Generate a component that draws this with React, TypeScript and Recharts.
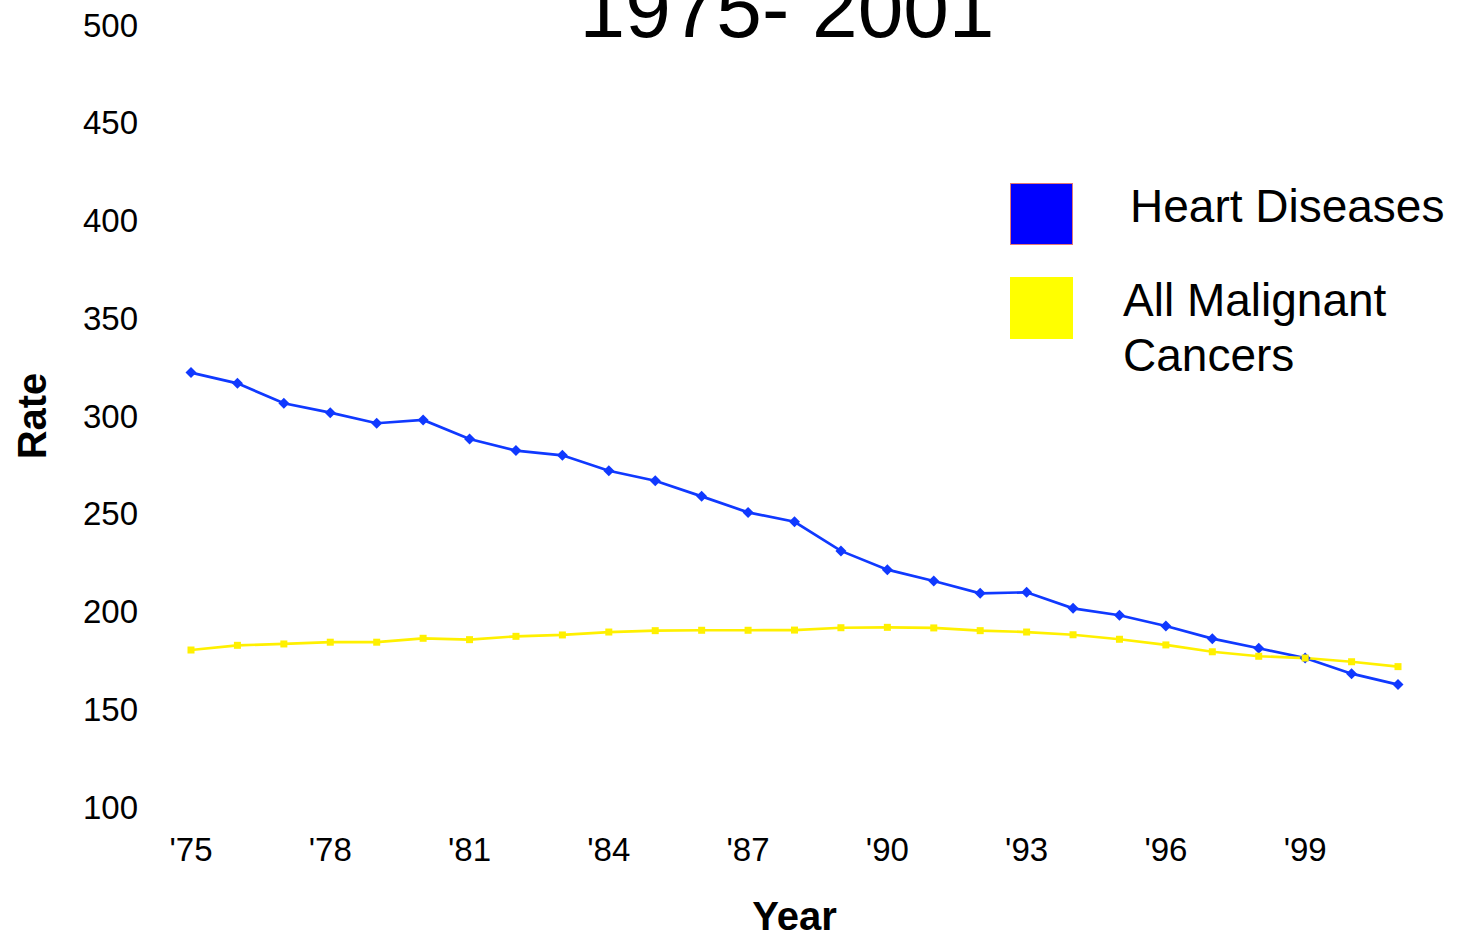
import React from 'react';
import { LineChart, Line, XAxis, YAxis, Legend, Label } from 'recharts';

// death rates per 100,000
const years = [1975, 1976, 1977, 1978, 1979, 1980, 1981, 1982, 1983, 1984, 1985, 1986, 1987, 1988,
  1989, 1990, 1991, 1992, 1993, 1994, 1995, 1996, 1997, 1998, 1999, 2000, 2001];
const heartDiseases = [322.2, 316.7, 306.5, 301.7, 296.3, 298.0, 288.2, 282.3, 279.9, 272.0, 266.9, 258.9,
  250.7, 245.9, 231.0, 221.4, 215.6, 209.3, 209.8, 201.6, 198.1, 192.6, 186.1, 181.2, 176.2, 168.2, 162.6];
const malignantCancers = [180.3, 182.7, 183.4, 184.3, 184.3, 186.3, 185.6, 187.3, 188.0, 189.5, 190.2, 190.4,
  190.4, 190.5, 191.7, 191.9, 191.6, 190.2, 189.5, 188.1, 185.8, 182.9, 179.4, 177.1, 176.2, 174.3, 171.8];
const xTicks = [1975, 1978, 1981, 1984, 1987, 1990, 1993, 1996, 1999];
const yTicks = [100, 150, 200, 250, 300, 350, 400, 450, 500];

const data = years.map((year, i) => ({
  year,
  heart: heartDiseases[i],
  cancer: malignantCancers[i],
}));

const FONT = '"Liberation Sans", Arial, Helvetica, sans-serif';
const BLUE_LINE = '#1039ff';
const YELLOW_LINE = '#fff000';

// legend look, keyed by series
const legendStyle: Record<string, { fill: string; border: string; rowTop: number; textLeft: number; textTop: number }> = {
  heart: { fill: '#0000ff', border: '#e07878', rowTop: 13, textLeft: 130, textTop: 9 },
  cancer: { fill: '#ffff00', border: '#ffff00', rowTop: 107, textLeft: 123, textTop: 103 },
};

const Diamond = (props: any) => {
  const { cx, cy, index } = props;
  if (cx == null || cy == null) return null;
  return (
    <path key={`hd-${index}`} d={`M${cx},${cy - 5.5}L${cx + 5.5},${cy}L${cx},${cy + 5.5}L${cx - 5.5},${cy}Z`} fill={BLUE_LINE} />
  );
};

const Square = (props: any) => {
  const { cx, cy, index } = props;
  if (cx == null || cy == null) return null;
  return <rect key={`mc-${index}`} x={cx - 3.5} y={cy - 3.5} width={7} height={7} fill={YELLOW_LINE} />;
};

const renderLegend = (props: any) => {
  const { payload = [] } = props;
  return (
    <div style={{ position: 'relative', width: 458, height: 230, fontFamily: FONT, fontSize: 46, lineHeight: '55px', color: '#000' }}>
      {payload.map((entry: any) => {
        const s = legendStyle[entry.dataKey];
        if (!s) return null;
        return (
          <React.Fragment key={entry.dataKey}>
            <div style={{ position: 'absolute', left: 10, top: s.rowTop, width: 61, height: 60, background: s.fill, border: `1px solid ${s.border}` }} />
            <div style={{ position: 'absolute', left: s.textLeft, top: s.textTop, width: 330 }}>{entry.value}</div>
          </React.Fragment>
        );
      })}
    </div>
  );
};

export default function App() {
  return (
    <div style={{ position: 'absolute', left: 0, top: 0, width: 1458, height: 936, background: '#fff', fontFamily: FONT }}>
      <svg width={1458} height={60} style={{ position: 'absolute', left: 0, top: 0 }}>
        <text x={787} y={37} textAnchor="middle" fontSize={82} fontFamily={FONT} fill="#000">1975- 2001</text>
      </svg>
      <LineChart width={1458} height={936} data={data} margin={{ top: 25, right: 60, bottom: 0, left: 0 }}>
        <XAxis
          dataKey="year"
          type="number"
          domain={[1975, 2001]}
          ticks={xTicks}
          tickFormatter={(v: number) => `'${String(v).slice(2)}`}
          axisLine={false}
          tickLine={false}
          tickSize={0}
          tickMargin={31}
          height={129}
          interval={0}
          tick={{ fontSize: 33, fill: '#000', fontFamily: FONT }}
        >
          <Label value="Year" position="insideBottom" offset={6} style={{ fontSize: 40, fontWeight: 'bold', fill: '#000', fontFamily: FONT }} />
        </XAxis>
        <YAxis
          type="number"
          domain={[100, 500]}
          ticks={yTicks}
          axisLine={false}
          tickLine={false}
          tickSize={0}
          tickMargin={53}
          width={191}
          interval={0}
          tick={{ fontSize: 33, fill: '#000', fontFamily: FONT }}
        >
          <Label value="Rate" position="insideLeft" angle={-90} offset={32} style={{ fontSize: 40, fontWeight: 'bold', fill: '#000', fontFamily: FONT, textAnchor: 'middle' }} />
        </YAxis>
        <Legend
          layout="vertical"
          align="center"
          verticalAlign="middle"
          content={renderLegend}
          wrapperStyle={{ top: 170, left: 1000, width: 458 }}
        />
        <Line
          dataKey="heart"
          name="Heart Diseases"
          stroke={BLUE_LINE}
          strokeWidth={2.7}
          dot={Diamond}
          activeDot={false}
          isAnimationActive={false}
        />
        <Line
          dataKey="cancer"
          name="All Malignant Cancers"
          stroke={YELLOW_LINE}
          strokeWidth={2.7}
          dot={Square}
          activeDot={false}
          isAnimationActive={false}
        />
      </LineChart>
    </div>
  );
}
